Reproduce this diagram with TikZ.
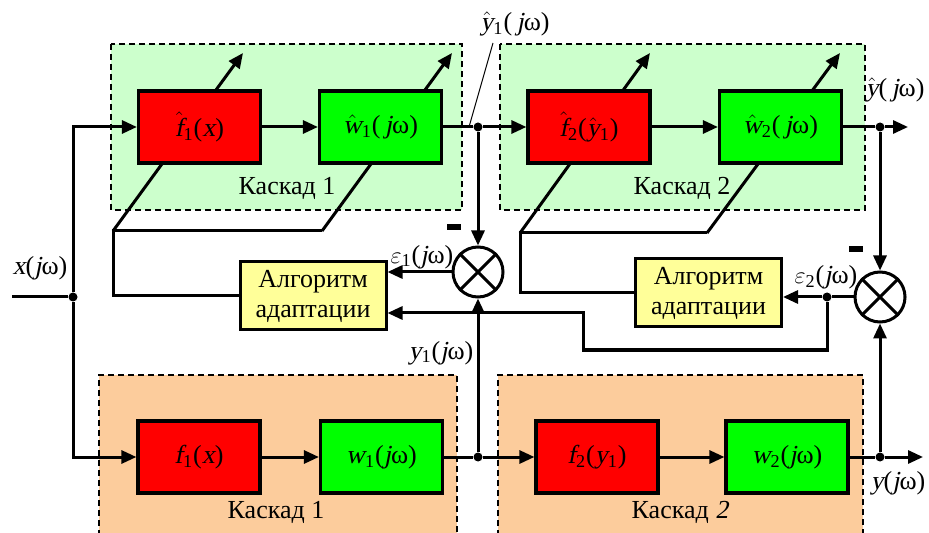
\documentclass[tikz,border=0pt]{standalone}
\usepackage[no-math]{fontspec}
\setmainfont{Liberation Serif}
\newfontfamily\slnt{Liberation Serif}[FakeSlant=0.2]
\usetikzlibrary{arrows.meta}
\definecolor{grpgreen}{RGB}{204,255,204}
\definecolor{grporange}{RGB}{252,204,156}
\definecolor{algyellow}{RGB}{255,255,153}
\newcommand{\vi}[1]{{\slnt #1}}
\newcommand{\hi}[1]{$\hat{\mbox{\slnt #1}}$}
\newcommand{\sub}[1]{\textsubscript{#1}}
\newcommand{\eps}{$\varepsilon$}
\tikzset{%
    block/.style={draw,line width=1.6pt,minimum width=61pt,minimum height=36pt,inner sep=0pt},
    nonlin/.style={block,fill=red},
    linear/.style={block,fill=green},
    adapt/.style={draw,line width=1.5pt,fill=algyellow,minimum width=73pt,minimum height=34pt,inner sep=0pt,align=center},
    sumcirc/.style={draw,circle,line width=1.5pt,minimum size=25pt,inner sep=0pt},
    group/.style={dash pattern=on 3pt off 2pt,line width=0.8pt},
    sig/.style={line width=1.5pt},
    arr/.style={sig,-{Triangle[length=7.5pt,width=6.5pt]}},
    dot/.style={circle,fill,inner sep=0pt,minimum size=4.5pt},
    minus/.style={fill,inner sep=0pt,minimum width=7pt,minimum height=3pt},
    leader/.style={line width=0.5pt},
}
\begin{document}
\begin{tikzpicture}[x=0.5pt,y=-0.5pt,font=\fontsize{13}{15}\selectfont]
    \useasboundingbox (0,0) rectangle (929,533);
    % cascades
    \draw[group,fill=grpgreen] (111,44) rectangle (462,210);
    \draw[group,fill=grpgreen] (500,44) rectangle (865,210);
    \fill[grporange] (99,375) rectangle (457,536);
    \draw[group] (99,536) -- (99,375) -- (457,375) -- (457,536);
    \fill[grporange] (498,375) rectangle (863,536);
    \draw[group] (498,536) -- (498,375) -- (863,375) -- (863,536);
    \node (k1) at (287,188) {Каскад 1};
    \node (k2) at (682,188) {Каскад 2};
    \node (k3) at (276,512) {Каскад 1};
    \node (k4) at (680,512) {Каскад \vi{2}};

    % tuning arrows through the model blocks
    \coordinate (a1) at (113,231);
    \coordinate (b1) at (322,231);
    \coordinate (a2) at (520,233);
    \coordinate (b2) at (707,233);
    \draw[arr] (a1) -- (243,53);
    \draw[arr] (b1) -- (452,53);
    \draw[arr] (a2) -- (650,53);
    \draw[arr] (b2) -- (840,53);

    % model
    \node[nonlin] (fh1) at (199.5,127) {\hi{f}\sub{1}(\vi{x})};
    \node[linear] (wh1) at (380.5,127) {\hi{w}\sub{1}(\,\vi{j}ω)};
    \node[nonlin] (fh2) at (589,127) {\hi{f}\sub{2}(\hi{y}\sub{1})};
    \node[linear] (wh2) at (780.5,127) {\hi{w}\sub{2}(\,\vi{j}ω)};
    % plant
    \node[nonlin] (f1) at (199,457) {\vi{f}\sub{1}(\vi{x})};
    \node[linear] (w1) at (381.5,457) {\vi{w}\sub{1}(\vi{j}ω)};
    \node[nonlin] (f2) at (597,457) {\vi{f}\sub{2}(\vi{y}\sub{1})};
    \node[linear] (w2) at (787,457) {\vi{w}\sub{2}(\vi{j}ω)};

    \node[adapt] (alg1) at (313,296) {Алгоритм\\адаптации};
    \node[adapt] (alg2) at (708.5,293) {Алгоритм\\адаптации};
    \node[sumcirc] (cmp1) at (478,272) {};
    \node[sumcirc] (cmp2) at (880,297) {};
    \draw[line width=1.5pt] (cmp1.north west) -- (cmp1.south east) (cmp1.north east) -- (cmp1.south west);
    \draw[line width=1.5pt] (cmp2.north west) -- (cmp2.south east) (cmp2.north east) -- (cmp2.south west);
    \node[minus] (m1) at (454,227) {};
    \node[minus] (m2) at (856,249.5) {};

    % input
    \coordinate (xin) at (12,297);
    \node[dot] (jx) at (73,297) {};
    \draw[sig] (xin) -- (jx);
    \draw[arr] (jx) |- (fh1.west);
    \draw[arr] (jx) |- (f1.west);

    % model chain
    \draw[arr] (fh1) -- (wh1);
    \node[dot] (jyh1) at (478,127) {};
    \draw[sig] (wh1) -- (jyh1);
    \draw[arr] (jyh1) -- (fh2);
    \draw[arr] (fh2) -- (wh2);
    \node[dot] (jyh) at (880,127) {};
    \draw[sig] (wh2) -- (jyh);
    \coordinate (yhout) at (908,127);
    \draw[arr] (jyh) -- (yhout);
    \draw[arr] (jyh1) -- (cmp1);
    \draw[arr] (jyh) -- (cmp2);

    % plant chain
    \draw[arr] (f1) -- (w1);
    \node[dot] (jy1) at (478,457) {};
    \draw[sig] (w1) -- (jy1);
    \draw[arr] (jy1) -- (f2);
    \draw[arr] (f2) -- (w2);
    \node[dot] (jy) at (880,457) {};
    \draw[sig] (w2) -- (jy);
    \coordinate (yout) at (923,457);
    \draw[arr] (jy) -- (yout);
    \draw[arr] (jy1) -- (cmp1);
    \draw[arr] (jy) -- (cmp2);

    % errors and adaptation
    \draw[arr] (cmp1.west) -- (cmp1.west -| alg1.east);
    \node[dot] (je2) at (827,297) {};
    \draw[sig] (cmp2.west) -- (je2);
    \draw[arr] (je2) -- (je2 -| alg2.east);
    \coordinate (back) at (583,313);
    \draw[arr] (je2) -- ++(0,53) -| (back) -- (back -| alg1.east);
    \draw[sig] (alg1.west) -| (a1) -- (b1);
    \draw[sig] (alg2.west) -| (a2) -- (b2);

    % signal labels
    \node (lx) at (40,268) {\vi{x}(\vi{j}ω)};
    \node (lyh1) at (515,24) {\hi{y}\sub{1}(\,\vi{j}ω)};
    \coordinate (tap) at (469,127);
    \draw[leader] ([xshift=-11pt]lyh1.south) -- (tap);
    \node (lyh) at (895,90) {\hi{y}(\,\vi{j}ω)};
    \node (ly) at (898,483) {\vi{y}(\vi{j}ω)};
    \node (ly1) at (441,353) {\vi{y}\sub{1}(\vi{j}ω)};
    \node (le1) at (422,257) {\eps\sub{1}(\vi{j}ω)};
    \node (le2) at (826,277) {\eps\sub{2}(\vi{j}ω)};
\end{tikzpicture}
\end{document}
